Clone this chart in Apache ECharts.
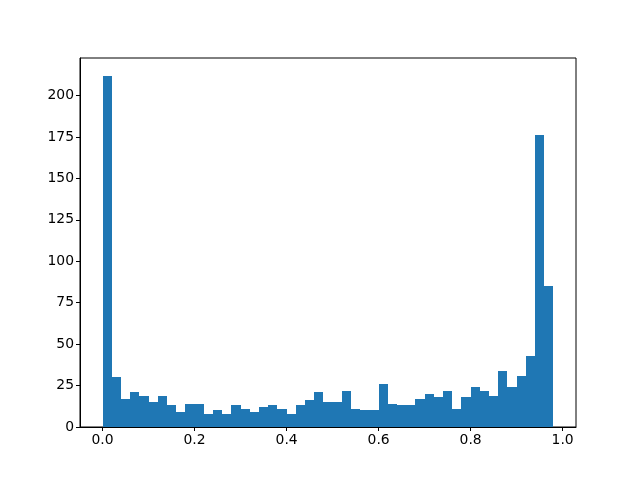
<!DOCTYPE html>
<html>
<head>
<meta charset="utf-8">
<script src="https://cdn.jsdelivr.net/npm/echarts@6/dist/echarts.min.js"></script>
<style>html,body{margin:0;padding:0;background:#fff}#c{width:640px;height:480px}</style>
</head>
<body>
<div id="c"></div>
<script>
// Histogram bin edges (49 bins)
var binEdges = [0.00,0.02,0.04,0.06,0.08,0.10,0.12,0.14,0.16,0.18,0.20,0.22,0.24,0.26,0.28,0.30,0.32,0.34,0.36,0.38,0.40,0.42,0.44,0.46,0.48,0.50,0.52,0.54,0.56,0.58,0.60,0.62,0.64,0.66,0.68,0.70,0.72,0.74,0.76,0.78,0.80,0.82,0.84,0.86,0.88,0.90,0.92,0.94,0.96,0.98];
// Counts per bin
var counts = [212,30,17,21,19,15,19,13,9,14,14,8,10,8,13,11,9,12,13,11,8,13,16,21,15,15,22,11,10,10,26,14,13,13,17,20,18,22,11,18,24,22,19,34,24,31,43,176,85];
var xTicks = [0.0,0.2,0.4,0.6,0.8,1.0];
var yTicks = [0,25,50,75,100,125,150,175,200];

var data = counts.map(function(c, i){ return [binEdges[i], binEdges[i+1], c]; });

var chart = echarts.init(document.getElementById('c'), null, {renderer:'canvas'});
var font = 'DejaVu Sans';
chart.setOption({
  animation: false,
  grid: {left: 80, right: 64, top: 58, bottom: 53, show: true, borderColor: '#000', borderWidth: 1, backgroundColor: 'transparent'},
  xAxis: {
    type: 'value', min: -0.049, max: 1.029,
    splitLine: {show: false},
    axisLine: {show: true, onZero: false, lineStyle: {color: '#000', width: 1}},
    axisTick: {show: true, length: 4, customValues: xTicks, lineStyle: {color: '#000'}},
    axisLabel: {customValues: xTicks, margin: 6, color: '#000', fontFamily: font, fontSize: 13.9,
      formatter: function(v){ return v.toFixed(1); }}
  },
  yAxis: {
    type: 'value', min: 0, max: 222.6,
    splitLine: {show: false},
    axisLine: {show: true, onZero: false, lineStyle: {color: '#000', width: 1}},
    axisTick: {show: true, length: 4, customValues: yTicks, lineStyle: {color: '#000'}},
    axisLabel: {customValues: yTicks, margin: 6, color: '#000', fontFamily: font, fontSize: 13.9,
      formatter: function(v){ return String(Math.round(v)); }}
  },
  series: [{
    type: 'custom',
    data: data,
    encode: {x: [0, 1], y: 2},
    renderItem: function(params, api){
      var p0 = api.coord([api.value(0), api.value(2)]);
      var p1 = api.coord([api.value(1), 0]);
      var x0 = Math.round(p0[0]), x1 = Math.round(p1[0]);
      var y0 = Math.round(p0[1]), y1 = Math.round(p1[1]);
      return {
        type: 'rect',
        shape: {x: x0, y: y0, width: x1 - x0, height: y1 - y0},
        style: {fill: '#1f77b4', stroke: null}
      };
    }
  }]
});
</script>
</body>
</html>
